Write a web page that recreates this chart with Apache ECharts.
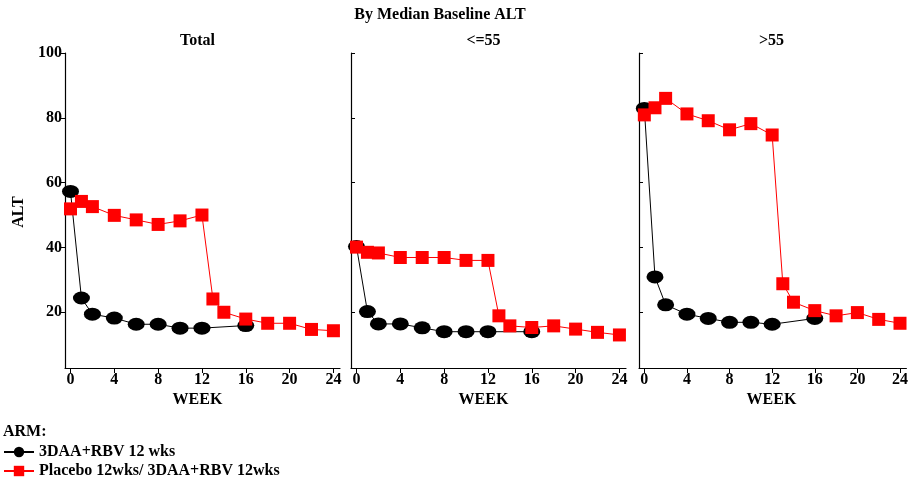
<!DOCTYPE html>
<html>
<head>
<meta charset="utf-8">
<script src="https://cdn.jsdelivr.net/npm/echarts@6.0.0/dist/echarts.min.js"></script>
<style>
html,body{margin:0;padding:0;background:#fff;}
#chart{width:911px;height:478px;}
</style>
</head>
<body>
<div id="chart"></div>
<script>
// ---- data ----
var mainTitle = 'By Median Baseline ALT';
var panelTitles = ['Total', '<=55', '>55'];
var armNames = ['3DAA+RBV 12 wks', 'Placebo 12wks/ 3DAA+RBV 12wks'];
var weeksBlack = [0, 1, 2, 4, 6, 8, 10, 12, 16];
var weeksRed = [0, 1, 2, 4, 6, 8, 10, 12, 13, 14, 16, 18, 20, 22, 24];
var totalBlack = [57.3, 24.4, 19.4, 18.2, 16.3, 16.3, 15.1, 15.1, 15.9];
var totalRed = [51.9, 54.2, 52.6, 49.9, 48.5, 47.1, 48.2, 50.0, 24.1, 20.0, 17.9, 16.6, 16.6, 14.7, 14.3];
var lowBlack = [40.3, 20.2, 16.4, 16.4, 15.2, 14.0, 14.0, 14.0, 14.0];
var lowRed = [40.1, 38.5, 38.3, 36.9, 36.9, 36.9, 36.0, 36.0, 18.9, 15.8, 15.3, 15.8, 14.8, 13.8, 13.0];
var highBlack = [82.9, 30.9, 22.3, 19.4, 18.1, 16.9, 16.9, 16.3, 18.1];
var highRed = [80.9, 83.1, 86.0, 81.2, 79.1, 76.3, 78.2, 74.7, 28.8, 23.1, 20.5, 18.9, 19.9, 17.8, 16.6];
var xTicks = [0, 4, 8, 12, 16, 20, 24];
var yTicks = [20, 40, 60, 80, 100];

// ---- chart ----
var FONT = '"Liberation Serif", "Times New Roman", serif';
var chart = echarts.init(document.getElementById('chart'), null, {renderer: 'canvas'});
var blackSets = [totalBlack, lowBlack, highBlack];
var redSets = [totalRed, lowRed, highRed];
var lefts = [65, 351, 639];
var W = 275, TOP = 53, H = 315;

function pairs(xs, ys) { return xs.map(function (x, i) { return [x, ys[i]]; }); }

var grids = [], xAxes = [], yAxes = [], series = [], graphics = [];
for (var p = 0; p < 3; p++) {
  grids.push({left: lefts[p], top: TOP, width: W, height: H, containLabel: false});
  xAxes.push({
    type: 'value', gridIndex: p, min: -0.5, max: 24.6,
    axisLine: {show: true, onZero: false, lineStyle: {color: '#000', width: 1.2}},
    axisTick: {show: true, length: 5, customValues: xTicks, lineStyle: {color: '#000'}},
    axisLabel: {customValues: xTicks, color: '#000', fontFamily: FONT, fontWeight: 'bold', fontSize: 16, margin: 4},
    splitLine: {show: false}
  });
  yAxes.push({
    type: 'value', gridIndex: p, min: 2.8, max: 100,
    axisLine: {show: true, onZero: false, lineStyle: {color: '#000', width: 1.2}},
    axisTick: {show: true, length: 4, inside: p > 0, customValues: yTicks, lineStyle: {color: '#000'}},
    axisLabel: {show: p === 0, customValues: yTicks, color: '#000', fontFamily: FONT, fontWeight: 'bold', fontSize: 16, margin: 3},
    splitLine: {show: false}
  });
  series.push({
    name: armNames[0], type: 'line', xAxisIndex: p, yAxisIndex: p,
    data: pairs(weeksBlack, blackSets[p]),
    symbol: 'circle', symbolSize: [17, 13],
    itemStyle: {color: '#000'}, lineStyle: {color: '#000', width: 1},
    z: 2, animation: false
  });
  series.push({
    name: armNames[1], type: 'line', xAxisIndex: p, yAxisIndex: p,
    data: pairs(weeksRed, redSets[p]),
    symbol: 'rect', symbolSize: [13, 13],
    itemStyle: {color: '#ff0000'}, lineStyle: {color: '#ff0000', width: 1},
    z: 3, animation: false
  });
  graphics.push({
    type: 'text', x: lefts[p] + W / 2 - 5, y: 41,
    style: {text: panelTitles[p], font: 'bold 16px ' + FONT, fill: '#000', align: 'center', verticalAlign: 'middle'}
  });
  graphics.push({
    type: 'text', x: lefts[p] + W / 2 - 5, y: 400,
    style: {text: 'WEEK', font: 'bold 16px ' + FONT, fill: '#000', align: 'center', verticalAlign: 'middle'}
  });
}
graphics.push({
  type: 'text', x: 440, y: 15,
  style: {text: mainTitle, font: 'bold 16px ' + FONT, fill: '#000', align: 'center', verticalAlign: 'middle'}
});
graphics.push({
  type: 'text', x: 19, y: 212, rotation: Math.PI / 2,
  style: {text: 'ALT', font: 'bold 16px ' + FONT, fill: '#000', align: 'center', verticalAlign: 'middle'}
});
graphics.push({
  type: 'text', x: 3, y: 432,
  style: {text: 'ARM:', font: 'bold 16px ' + FONT, fill: '#000', align: 'left', verticalAlign: 'middle'}
});

chart.setOption({
  backgroundColor: '#fff',
  animation: false,
  grid: grids,
  xAxis: xAxes,
  yAxis: yAxes,
  series: series,
  legend: {
    data: armNames, orient: 'vertical', left: 3, top: 444, height: 80, width: 400,
    itemWidth: 30, itemHeight: 13, itemGap: 3,
    textStyle: {color: '#000', fontFamily: FONT, fontWeight: 'bold', fontSize: 16, lineHeight: 16},
    padding: 0
  },
  graphic: graphics
});
</script>
</body>
</html>
